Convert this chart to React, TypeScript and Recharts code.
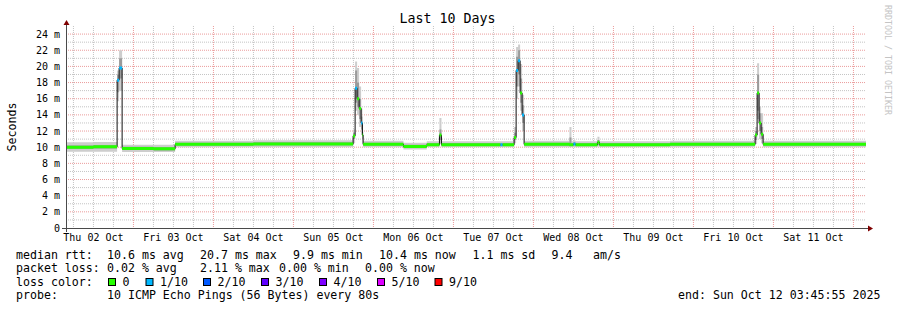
import React from 'react';
import { ComposedChart, Area, Line, XAxis, YAxis, CartesianGrid } from 'recharts';

// time axis: hours since Thu 02 Oct 00:00, graph covers 03:45:55 + 10 days
const hours = [
  3.77, 12.0, 19.1, 19.7, 20.6, 30.0, 36.5, 60.0, 89.9, 90.5,
  91.1, 91.7, 92.3, 92.7, 92.9, 105.0, 112.0, 115.8, 116.4, 134.1,
  134.7, 138.2, 138.8, 139.4, 140.0, 140.6, 141.2, 154.8, 155.4, 156.0,
  156.6, 163.2, 163.8, 185.0, 210.5, 211.1, 211.7, 212.3, 212.9, 243.77,
];
// median rtt in ms
const median = [
  10.0, 10.05, 18.3, 19.8, 9.85, 9.8, 10.35, 10.4, 11.4, 17.3,
  16.0, 14.8, 13.0, 11.5, 10.35, 10.1, 10.3, 11.5, 10.3, 10.3,
  10.3, 11.2, 19.5, 20.7, 16.7, 14.0, 10.35, 10.3, 10.3, 10.4,
  10.3, 10.6, 10.3, 10.35, 11.5, 16.7, 13.0, 11.6, 10.35, 10.35,
];
// outer smoke (min / max ping)
const smokeLo = [
  9.45, 9.45, 15.7, 17.0, 9.4, 9.4, 10.0, 10.0, 10.5, 14.5,
  14.0, 12.5, 11.5, 10.5, 10.0, 9.7, 10.0, 10.4, 10.0, 10.0,
  10.0, 10.5, 16.0, 17.5, 14.5, 12.0, 10.0, 10.0, 10.0, 10.0,
  10.0, 10.1, 10.0, 10.0, 10.4, 13.5, 11.0, 10.5, 10.0, 10.0,
];
const smokeHi = [
  10.6, 10.65, 19.5, 22.0, 10.3, 10.3, 10.8, 10.85, 12.2, 20.6,
  19.8, 17.5, 14.8, 12.2, 10.8, 10.55, 10.75, 13.6, 10.75, 10.75,
  10.75, 12.5, 22.4, 22.7, 20.3, 16.5, 10.8, 12.5, 10.75, 10.85,
  10.75, 11.3, 10.75, 10.8, 12.5, 20.4, 15.0, 14.2, 10.8, 10.8,
];
// darker core of the smoke
const coreLo = [
  9.8, 9.85, 16.8, 18.5, 9.65, 9.6, 10.2, 10.25, 11.0, 15.5,
  15.0, 13.5, 12.2, 11.0, 10.2, 9.95, 10.15, 10.9, 10.15, 10.15,
  10.15, 10.9, 17.5, 19.0, 15.5, 13.0, 10.2, 10.15, 10.15, 10.2,
  10.15, 10.3, 10.15, 10.2, 10.9, 14.5, 12.0, 11.0, 10.2, 10.2,
];
const coreHi = [
  10.2, 10.25, 19.0, 21.0, 10.05, 10.0, 10.55, 10.6, 11.8, 19.5,
  18.0, 16.0, 13.8, 11.9, 10.55, 10.3, 10.5, 12.2, 10.5, 10.5,
  10.5, 11.8, 21.2, 22.0, 18.5, 15.2, 10.55, 11.2, 10.5, 10.6,
  10.5, 10.9, 10.5, 10.55, 12.0, 19.0, 14.2, 12.5, 10.55, 10.55,
];
// lost pings out of 10
const lossTenths = [
  0, 0, 1, 1, 0, 0, 0, 0, 0, 1,
  0, 0, 1, 0, 0, 0, 0, 0, 0, 1,
  0, 0, 1, 1, 0, 1, 0, 0, 0, 1,
  0, 0, 0, 0, 0, 0, 0, 0, 0, 0,
];

const dayTicks = [12, 36, 60, 84, 108, 132, 156, 180, 204, 228];
const dayLabels = [
  'Thu 02 Oct', 'Fri 03 Oct', 'Sat 04 Oct', 'Sun 05 Oct', 'Mon 06 Oct',
  'Tue 07 Oct', 'Wed 08 Oct', 'Thu 09 Oct', 'Fri 10 Oct', 'Sat 11 Oct',
];
const msTicks = [0, 2, 4, 6, 8, 10, 12, 14, 16, 18, 20, 22, 24];

const lossLabels = ['0', '1/10', '2/10', '3/10', '4/10', '5/10', '9/10'];
const lossColors = ['#26ff00', '#00b8ff', '#0059ff', '#5e00ff', '#7e00ff', '#dd00ff', '#ff0000'];

const statsRtt = ['median rtt:', '10.6 ms avg', '20.7 ms max', '9.9 ms min', '10.4 ms now', '1.1 ms sd', '9.4', 'am/s'];
const statsLoss = ['packet loss:', '0.02 % avg', '2.11 % max', '0.00 % min', '0.00 % now'];

const rows = hours.map((h, i) => ({
  h,
  med: median[i],
  smoke: [smokeLo[i], smokeHi[i]],
  core: [coreLo[i], coreHi[i]],
}));

// each sample's median drawn as a flat dash in its loss colour (like smokeping)
const lossDashes = (level: number) => {
  const out: { h: number; v: number | null }[] = [];
  for (let i = 0; i < hours.length - 1; i++) {
    if (lossTenths[i] !== level) continue;
    out.push({ h: hours[i], v: median[i] });
    out.push({ h: hours[i + 1], v: median[i] });
    out.push({ h: hours[i + 1], v: null });
  }
  return out;
};

// grid lines: red at midnight / even ms, grey every 6h / odd ms
const midnights: number[] = [];
const sixHours: number[] = [];
for (let h = 6; h <= 240; h += 6) (h % 24 === 0 ? midnights : sixHours).push(h);
const evenMs: number[] = [];
const oddMs: number[] = [];
for (let v = 1; v <= 24; v++) (v % 2 === 0 ? evenMs : oddMs).push(v);

const MONO = '"DejaVu Sans Mono", monospace';

export default function App() {
  const legendX = [16, 107, 200, 293, 379, 472.5, 551.5, 593];
  const lossX = [16, 107, 200, 279, 365];
  const boxX = [108.5, 146, 203.5, 261.5, 319.5, 377.5, 435];

  return (
    <div style={{ position: 'relative', width: 897, height: 310, background: '#fff' }}>
      <style>{'body{margin:0}'}</style>
      <ComposedChart
        width={897}
        height={310}
        data={rows}
        margin={{ top: 26, right: 31, bottom: 52, left: 0 }}
      >
        <CartesianGrid
          stroke="#c4c4c4"
          strokeDasharray="1 1"
          horizontalValues={oddMs}
          verticalValues={sixHours}
        />
        <CartesianGrid
          stroke="#eb9c9c"
          strokeDasharray="1 1"
          horizontalValues={evenMs}
          verticalValues={midnights}
        />
        <XAxis
          dataKey="h"
          type="number"
          domain={[3.765, 243.765]}
          allowDataOverflow
          ticks={dayTicks}
          tickFormatter={(v) => dayLabels[dayTicks.indexOf(v)]}
          height={30}
          axisLine={false}
          tickLine={false}
          tickSize={4}
          tickMargin={2}
          interval={0}
          tick={{ fontSize: 10, fill: '#000', fontFamily: MONO }}
        />
        <YAxis
          type="number"
          domain={[0, 25]}
          ticks={msTicks}
          tickFormatter={(v) => (v === 0 ? '0' : `${v} m`)}
          width={66}
          axisLine={false}
          tickLine={false}
          tickSize={4}
          tickMargin={2}
          interval={0}
          tick={{ fontSize: 10, fill: '#000', fontFamily: MONO }}
        />
        <Area dataKey="smoke" type="stepAfter" fill="#cdcdcd" fillOpacity={1} stroke="none" isAnimationActive={false} />
        <Area dataKey="core" type="stepAfter" fill="#9a9a9a" fillOpacity={1} stroke="none" isAnimationActive={false} />
        <Line dataKey="med" type="stepAfter" stroke="#111" strokeWidth={1} dot={false} isAnimationActive={false} />
        <Line
          data={lossDashes(0)}
          dataKey="v"
          type="linear"
          stroke={lossColors[0]}
          strokeWidth={3}
          dot={false}
          connectNulls={false}
          isAnimationActive={false}
        />
        <Line
          data={lossDashes(1)}
          dataKey="v"
          type="linear"
          stroke={lossColors[1]}
          strokeWidth={3}
          dot={false}
          connectNulls={false}
          isAnimationActive={false}
        />
      </ComposedChart>

      <svg
        width={897}
        height={310}
        style={{ position: 'absolute', left: 0, top: 0, pointerEvents: 'none' }}
        fontFamily={MONO}
      >
        <text x={447.5} y={23} textAnchor="middle" fontSize={13.3} fill="#000">Last 10 Days</text>
        <text x={885} y={5} fontSize={8.3} fill="#c4c4c4" transform="rotate(90 885 5)">RRDTOOL / TOBI OETIKER</text>
        <text x={15.5} y={127} fontSize={11.6} fill="#000" textAnchor="middle" transform="rotate(-90 15.5 127)">Seconds</text>

        <line x1={66.5} x2={66.5} y1={24} y2={232} stroke="#4a4a4a" />
        <line x1={62} x2={868} y1={228.5} y2={228.5} stroke="#4a4a4a" />
        <polygon points="63.5,25 69.5,25 66.5,20" fill="#7f0000" />
        <polygon points="868,225.5 868,231.5 873,228.5" fill="#7f0000" />

        <g fontSize={11.6} fill="#000">
          {statsRtt.map((s, i) => (
            <text key={`r${i}`} x={legendX[i]} y={258.5}>{s}</text>
          ))}
          {statsLoss.map((s, i) => (
            <text key={`l${i}`} x={lossX[i]} y={272}>{s}</text>
          ))}
          <text x={16} y={285.5}>loss color:</text>
          {lossLabels.map((s, i) => (
            <g key={`c${i}`}>
              <rect x={boxX[i]} y={278.5} width={7} height={7} fill={lossColors[i]} stroke="#000" strokeWidth={1} />
              <text x={boxX[i] + 14} y={285.5}>{s}</text>
            </g>
          ))}
          <text x={16} y={299}>probe:</text>
          <text x={107} y={299}>10 ICMP Echo Pings (56 Bytes) every 80s</text>
          <text x={678} y={299}>end: Sun Oct 12 03:45:55 2025</text>
        </g>
      </svg>
    </div>
  );
}
